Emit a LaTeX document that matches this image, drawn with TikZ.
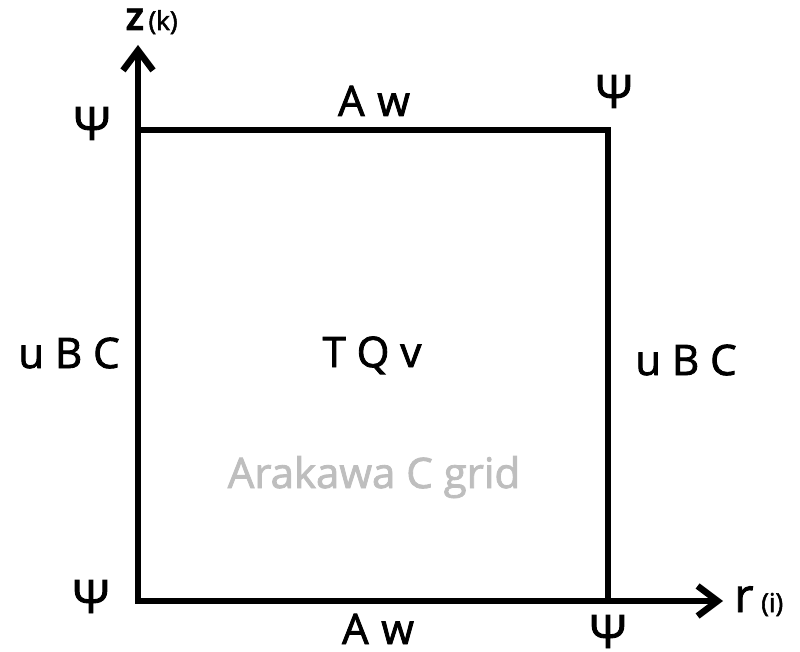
\documentclass[tikz,border=0pt]{standalone}
\usepackage{fontspec}
\setmainfont{Open Sans}
\newfontfamily\semib{Open Sans}[FakeBold=2]
\usetikzlibrary{arrows.meta}
\definecolor{lightgraytext}{RGB}{190,190,190}
\begin{document}
\begin{tikzpicture}[x=1pt,y=-1pt,
  lbl/.style={anchor=base, inner sep=0pt, font=\semib\fontsize{42}{42}\selectfont},
  psi/.style={anchor=base, inner sep=0pt, font=\semib\fontsize{46}{46}\selectfont},
  axislbl/.style={anchor=base west, inner sep=0pt},
  axisline/.style={line width=6.5pt, line join=miter, {Straight Barb[length=20pt,width=30pt]}-{Straight Barb[length=20pt,width=30pt]}},
  boxline/.style={line width=6.5pt, line join=miter}]
\useasboundingbox (0,0) rectangle (800,652);
% coordinates
\coordinate (Ztip) at (138,45);
\coordinate (O) at (138,601);
\coordinate (Rtip) at (723,601);
\coordinate (TL) at (138,130);
\coordinate (TR) at (608,130);
\coordinate (BR) at (608,601);
% axes and box
\draw[axisline] (Ztip) -- (O) -- (Rtip);
\draw[boxline] (TL) -- (TR) -- (BR);
% axis labels
\node[axislbl, font=\semib\fontsize{30}{30}\selectfont] (zlab) at (126,30) {\bfseries Z\,{\mdseries\fontsize{26}{26}\selectfont(k)}};
\node[axislbl, font=\semib\fontsize{47}{47}\selectfont] (rlab) at (734,612) {r\,{\fontsize{26}{26}\selectfont(i)}};
% psi labels
\node[psi] (psiTL) at (92,140) {Ψ};
\node[psi] (psiTR) at (614,108) {Ψ};
\node[psi] (psiBL) at (91,613) {Ψ};
\node[psi] (psiBR) at (608,648) {Ψ};
% face and center labels
\node[lbl] (awTop) at (374,116) {A\hspace{0.3em}w};
\node[lbl] (awBot) at (378,644) {A\hspace{0.3em}w};
\node[lbl] (ubcL) at (69,368) {u B C};
\node[lbl] (ubcR) at (686,375) {u B C};
\node[lbl] (tqv) at (372,367) {T Q v};
\node[lbl, text=lightgraytext] (title) at (374,488) {Arakawa C grid};
\end{tikzpicture}
\end{document}
